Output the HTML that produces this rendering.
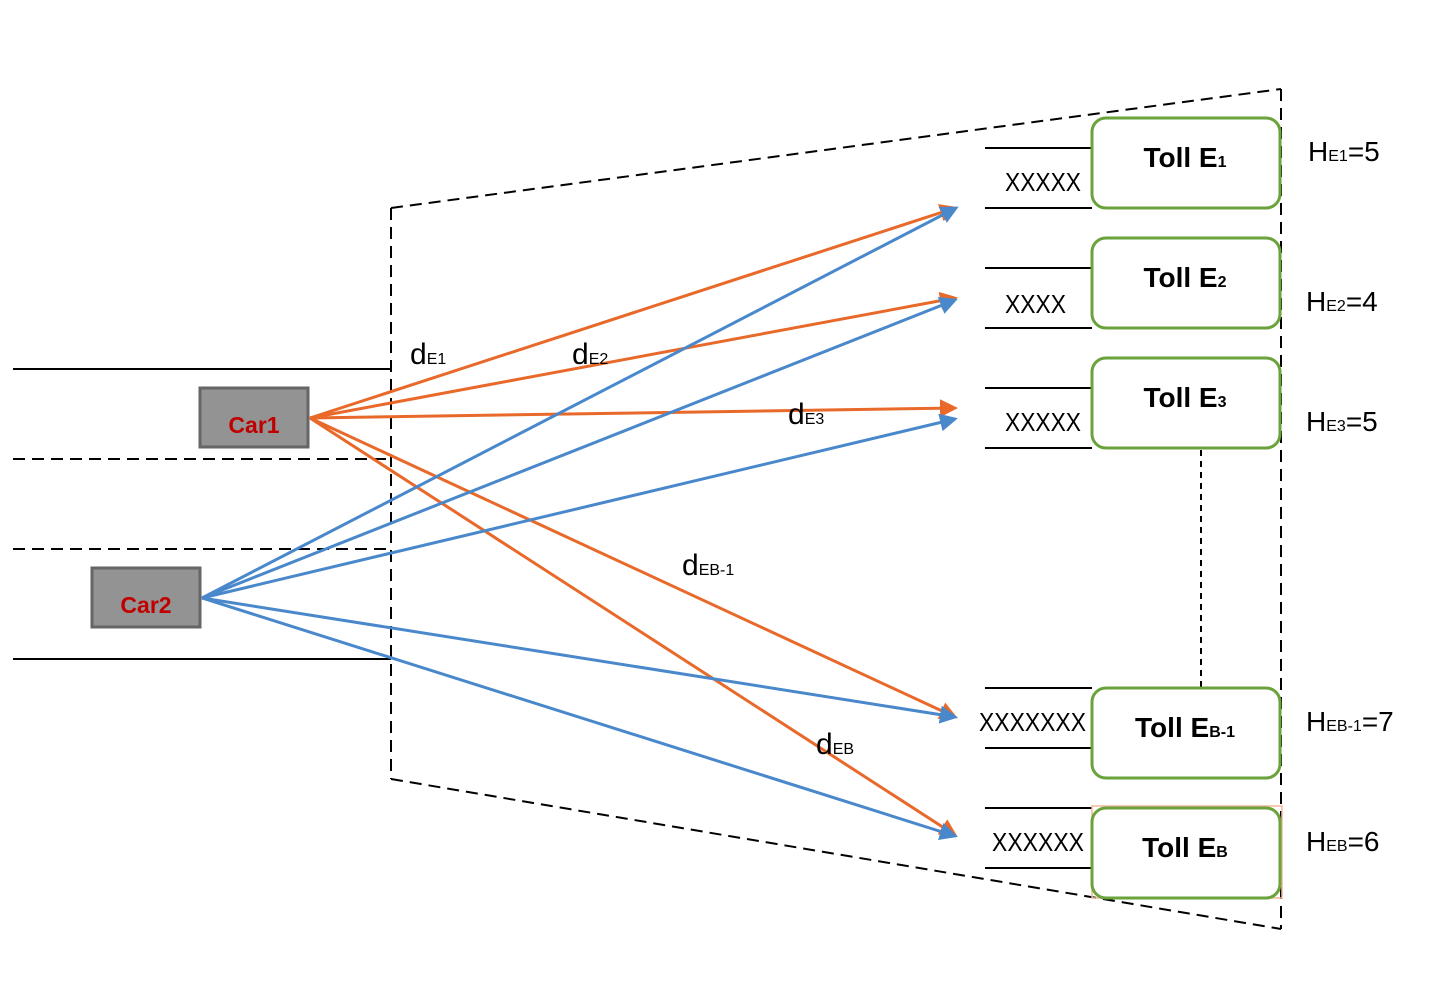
<!DOCTYPE html>
<html><head><meta charset="utf-8"><style>
html,body{margin:0;padding:0;background:#fff;}
svg{display:block;}
text{font-family:"Liberation Sans","DejaVu Sans",sans-serif;}
</style></head><body>
<svg width="1438" height="992" viewBox="0 0 1438 992" xmlns="http://www.w3.org/2000/svg">
<defs>
<marker id="ao" markerWidth="6" markerHeight="6" refX="5" refY="3" orient="auto" markerUnits="strokeWidth"><path d="M0,0 L6,3 L0,6 z" fill="#e8692a"/></marker>
<marker id="ab" markerWidth="6" markerHeight="6" refX="5" refY="3" orient="auto" markerUnits="strokeWidth"><path d="M0,0 L6,3 L0,6 z" fill="#4a88cc"/></marker>
</defs>
<g stroke="#000" stroke-width="2" stroke-dasharray="12,7" fill="none">
<line x1="391" y1="208" x2="1281" y2="89"/>
<line x1="1281" y1="89" x2="1281" y2="929"/>
<line x1="391" y1="779" x2="1281" y2="929"/>
<line x1="391" y1="208" x2="391" y2="779"/>
<line x1="13" y1="459" x2="391" y2="459"/>
<line x1="13" y1="549" x2="391" y2="549"/>
</g>
<line x1="1201" y1="450" x2="1201" y2="688" stroke="#000" stroke-width="2" stroke-dasharray="6,5"/>
<g stroke="#000" stroke-width="2">
<line x1="13" y1="369" x2="391" y2="369"/>
<line x1="13" y1="659" x2="391" y2="659"/>
<line x1="985" y1="148" x2="1092" y2="148"/><line x1="985" y1="208" x2="1092" y2="208"/>
<line x1="985" y1="268" x2="1092" y2="268"/><line x1="985" y1="328" x2="1092" y2="328"/>
<line x1="985" y1="388" x2="1092" y2="388"/><line x1="985" y1="448" x2="1092" y2="448"/>
<line x1="985" y1="688" x2="1092" y2="688"/><line x1="985" y1="748" x2="1092" y2="748"/>
<line x1="985" y1="808" x2="1092" y2="808"/><line x1="985" y1="868" x2="1092" y2="868"/>
</g>
<rect x="200" y="388" width="108" height="59" fill="#939393" stroke="#666" stroke-width="3"/>
<text x="254" y="433" font-size="23" font-weight="bold" fill="#c00000" text-anchor="middle">Car1</text>
<rect x="92" y="568" width="108" height="59" fill="#939393" stroke="#666" stroke-width="3"/>
<text x="146" y="613" font-size="23" font-weight="bold" fill="#c00000" text-anchor="middle">Car2</text>
<g stroke="#e8692a" stroke-width="3" fill="none" marker-end="url(#ao)">
<line x1="310" y1="418" x2="955" y2="208"/>
<line x1="310" y1="418" x2="955" y2="298"/>
<line x1="310" y1="418" x2="955" y2="408"/>
<line x1="310" y1="418" x2="955" y2="717"/>
<line x1="310" y1="418" x2="955" y2="835"/>
</g>
<g stroke="#4a88cc" stroke-width="3" fill="none" marker-end="url(#ab)">
<line x1="202" y1="598" x2="956" y2="208"/>
<line x1="202" y1="598" x2="955" y2="300"/>
<line x1="202" y1="598" x2="955" y2="419"/>
<line x1="202" y1="598" x2="955" y2="717"/>
<line x1="202" y1="598" x2="955" y2="836"/>
</g>
<g font-size="30" fill="#000">
<text x="410" y="364">d<tspan font-size="16">E1</tspan></text>
<text x="572" y="364">d<tspan font-size="16">E2</tspan></text>
<text x="788" y="424">d<tspan font-size="16">E3</tspan></text>
<text x="682" y="575">d<tspan font-size="16">EB-1</tspan></text>
<text x="816" y="754">d<tspan font-size="16">EB</tspan></text>
</g>
<rect x="1092" y="806" width="190" height="92" fill="none" stroke="#f0b89a" stroke-width="1.5"/>
<g fill="#fff" stroke="#6aa23c" stroke-width="3">
<rect x="1092" y="118" width="188" height="90" rx="14"/>
<rect x="1092" y="238" width="188" height="90" rx="14"/>
<rect x="1092" y="358" width="188" height="90" rx="14"/>
<rect x="1092" y="688" width="188" height="90" rx="14"/>
<rect x="1092" y="808" width="188" height="90" rx="14"/>
</g>
<g font-size="28" font-weight="bold" fill="#000" text-anchor="middle">
<text x="1185" y="167">Toll E<tspan font-size="16">1</tspan></text>
<text x="1185" y="287">Toll E<tspan font-size="16">2</tspan></text>
<text x="1185" y="407">Toll E<tspan font-size="16">3</tspan></text>
<text x="1185" y="737">Toll E<tspan font-size="16">B-1</tspan></text>
<text x="1185" y="857">Toll E<tspan font-size="16">B</tspan></text>
</g>
<g font-size="26" fill="#000">
<text x="1005" y="191" textLength="76" lengthAdjust="spacingAndGlyphs">XXXXX</text>
<text x="1005" y="313" textLength="61" lengthAdjust="spacingAndGlyphs">XXXX</text>
<text x="1005" y="431" textLength="76" lengthAdjust="spacingAndGlyphs">XXXXX</text>
<text x="979" y="731" textLength="107" lengthAdjust="spacingAndGlyphs">XXXXXXX</text>
<text x="992" y="851" textLength="92" lengthAdjust="spacingAndGlyphs">XXXXXX</text>
</g>
<g font-size="28" fill="#000">
<text x="1308" y="161">H<tspan font-size="16">E1</tspan>=5</text>
<text x="1306" y="311">H<tspan font-size="16">E2</tspan>=4</text>
<text x="1306" y="431">H<tspan font-size="16">E3</tspan>=5</text>
<text x="1306" y="731">H<tspan font-size="16">EB-1</tspan>=7</text>
<text x="1306" y="851">H<tspan font-size="16">EB</tspan>=6</text>
</g>
</svg>
</body></html>
